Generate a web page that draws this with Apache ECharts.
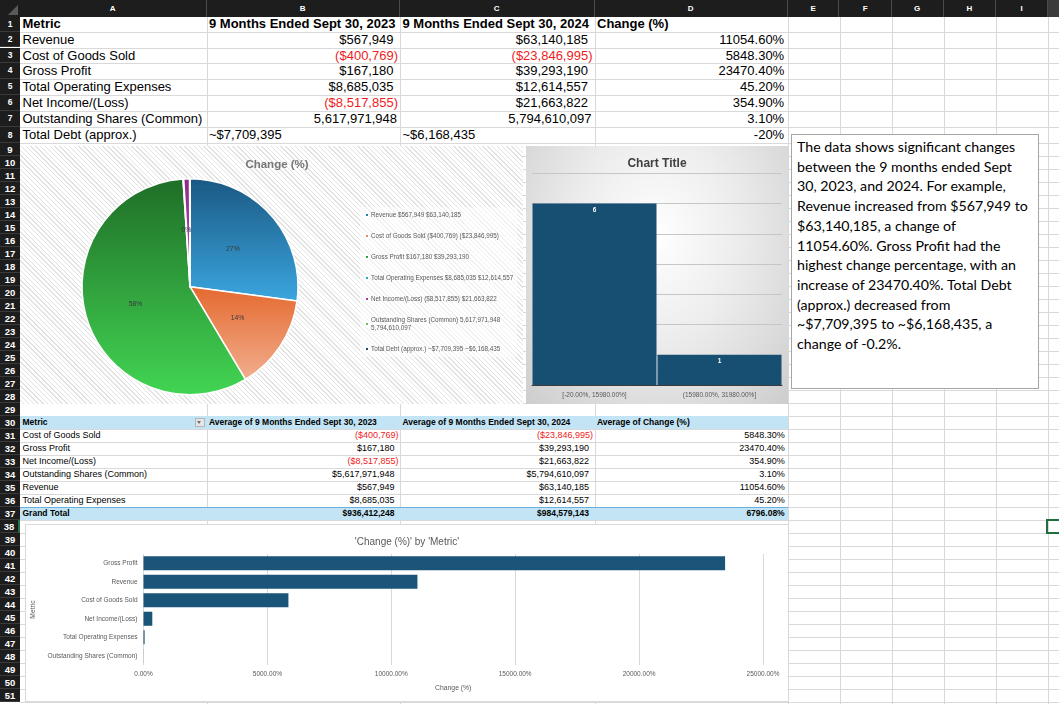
<!DOCTYPE html>
<html>
<head>
<meta charset="utf-8">
<script src="https://cdn.jsdelivr.net/npm/echarts@6/dist/echarts.min.js"></script>
<style>
html, body { margin: 0; padding: 0; width: 1059px; height: 704px; overflow: hidden; background: #fff; }
body { font-family: 'Liberation Sans', Arial, sans-serif; }
#sheet { position: absolute; left: 0; top: 0; width: 1059px; height: 704px; overflow: hidden; }
.hl { position: absolute; height: 1px; background: #d9d9d9; }
.vl { position: absolute; width: 1px; background: #d9d9d9; }
.cell { position: absolute; white-space: nowrap; box-sizing: border-box; color: #000; }
.hdr { position: absolute; background: #1d1d1d; color: #fff; font-weight: bold; text-align: center; box-sizing: border-box; }
#pie { position: absolute; left: 20px; top: 146px; width: 503px; height: 258px;
  background: repeating-linear-gradient(45deg, #ffffff 0px, #ffffff 2.4px, #e2e2e2 2.4px, #e2e2e2 3.4px); }
#hist { position: absolute; left: 526px; top: 146px; width: 262px; height: 258px;
  background: radial-gradient(ellipse at 50% 35%, #ffffff 0%, #ececec 45%, #cdcdcd 100%); }
#bar { position: absolute; left: 25px; top: 524px; width: 762px; height: 176px; background: #fff; border: 1px solid #d9d9d9; }
#note { position: absolute; left: 791px; top: 134px; width: 248px; height: 255px; box-sizing: border-box;
  background: #fff; border: 1px solid #a6a6a6; padding: 2px 0 0 5px;
  font-family: 'Lato', 'Open Sans', sans-serif; font-size: 14.2px; line-height: 19.7px; color: #000; white-space: pre; }
</style>
</head>
<body>
<div id="sheet"></div>
<div id="pie"></div>
<div id="hist"></div>
<div id="bar"></div>
<div id="note"></div>
<script>
// source table (rows 1-8)
const metrics = ['Revenue', 'Cost of Goods Sold', 'Gross Profit', 'Total Operating Expenses',
  'Net Income/(Loss)', 'Outstanding Shares (Common)', 'Total Debt (approx.)'];
const y2023 = [567949, -400769, 167180, 8685035, -8517855, 5617971948, 7709395];
const y2024 = [63140185, -23846995, 39293190, 12614557, 21663822, 5794610097, 6168435];
const changePct = [11054.6, 5848.3, 23470.4, 45.2, 354.9, 3.1, -20];

// histogram bins
const histBins = ['[-20.00%, 15980.00%]', '(15980.00%, 31980.00%]'];
const histCounts = [6, 1];

const colLetters = ['A', 'B', 'C', 'D', 'E', 'F', 'G', 'H', 'I', ''];
const colEdges = [20, 206.5, 400, 594.5, 787.7, 839.5, 891.7, 943.8, 996, 1048, 1100];
const topRows = [17.3, 31.6, 47.5, 63.4, 79.3, 95.2, 111.1, 127, 143.1];

const noteText = 'The data shows significant changes\nbetween the 9 months ended Sept\n30, 2023, and 2024. For example,\nRevenue increased from $567,949 to\n$63,140,185, a change of\n11054.60%. Gross Profit had the\nhighest change percentage, with an\nincrease of 23470.40%. Total Debt\n(approx.) decreased from\n~$7,709,395 to ~$6,168,435, a\nchange of -0.2%.';

const narrow = "'Liberation Sans Narrow', 'Liberation Sans', Arial, sans-serif";

function rowTop(r) {
  return r <= 9 ? topRows[r - 1] : 143.1 + (r - 9) * 13;
}
function money(v) {
  const s = '$' + Math.abs(Math.round(v)).toLocaleString('en-US');
  return v < 0 ? '(' + s + ')' : s;
}
function plain(v) { return Math.round(v).toLocaleString('en-US'); }
function pct(v) { return Number.isInteger(v) ? v + '%' : v.toFixed(2) + '%'; }
function fmtTop(i, v) {
  if (i === 5) return plain(v);
  if (i === 6) return '~' + money(v);
  return money(v);
}

const sheet = document.getElementById('sheet');
function add(cls, css, text) {
  const d = document.createElement('div');
  d.className = cls;
  Object.assign(d.style, css);
  if (text !== undefined) d.textContent = text;
  sheet.appendChild(d);
  return d;
}

// grid lines
for (let r = 2; r <= 52; r++) {
  add('hl', { left: '20px', top: rowTop(r) + 'px', width: '1040px' });
}
for (let c = 1; c < colEdges.length - 1; c++) {
  add('vl', { left: colEdges[c] + 'px', top: '17px', height: '690px' });
}

// pivot fills (under text)
add('cell', { left: '20px', top: rowTop(30) + 'px', width: (colEdges[4] - 20) + 'px', height: '13px', background: '#c2e4f5' });
add('cell', { left: '20px', top: rowTop(37) + 'px', width: (colEdges[4] - 20) + 'px', height: '13px', background: '#c2e4f5', borderTop: '1px solid #69b0dc' });

function cell(r, c, text, o) {
  o = o || {};
  const x0 = colEdges[c], x1 = colEdges[c + 1];
  const h = rowTop(r + 1) - rowTop(r);
  const css = {
    top: rowTop(r) + 'px', height: h + 'px', lineHeight: h + 'px',
    fontSize: (o.size || 13) + 'px', fontWeight: o.bold ? 'bold' : 'normal',
    color: o.color || '#000', fontFamily: o.family || "'Liberation Sans', Arial, sans-serif"
  };
  if (o.right) {
    css.left = x0 + 'px'; css.width = (x1 - x0 - (o.pad || 2)) + 'px'; css.textAlign = 'right';
  } else {
    css.left = (x0 + 2.5) + 'px';
  }
  add('cell', css, text);
}

// top table
['Metric', '9 Months Ended Sept 30, 2023', '9 Months Ended Sept 30, 2024', 'Change (%)']
  .forEach((t, c) => cell(1, c, t, { bold: true }));
metrics.forEach((m, i) => {
  const r = i + 2;
  cell(r, 0, m);
  if (i === 6) {
    cell(r, 1, fmtTop(i, y2023[i]));
    cell(r, 2, fmtTop(i, y2024[i]));
  } else {
    const pad = v => (i === 5 ? 3 : (v < 0 ? 2 : 6.5));
    cell(r, 1, fmtTop(i, y2023[i]), { right: true, pad: pad(y2023[i]), color: y2023[i] < 0 ? '#ee1c1c' : '#000' });
    cell(r, 2, fmtTop(i, y2024[i]), { right: true, pad: pad(y2024[i]), color: y2024[i] < 0 ? '#ee1c1c' : '#000' });
  }
  cell(r, 3, pct(changePct[i]), { right: true, pad: 3.5 });
});

// pivot table (rows 30-37)
const pivotIdx = metrics.map((m, i) => i).filter(i => i !== 6)
  .sort((a, b) => metrics[a].localeCompare(metrics[b]));
const pv = { size: 9, family: narrow };
const pvb = { size: 8.5, family: narrow, bold: true };
cell(30, 0, 'Metric', pvb);
cell(30, 1, 'Average of 9 Months Ended Sept 30, 2023', pvb);
cell(30, 2, 'Average of 9 Months Ended Sept 30, 2024', pvb);
cell(30, 3, 'Average of Change (%)', pvb);
pivotIdx.forEach((i, k) => {
  const r = 31 + k;
  cell(r, 0, metrics[i], pv);
  [y2023, y2024].forEach((arr, j) => {
    const v = arr[i];
    cell(r, 1 + j, money(v), Object.assign({ right: true, pad: v < 0 ? 1.5 : 5.5, color: v < 0 ? '#ee1c1c' : '#000' }, pv));
  });
  cell(r, 3, pct(changePct[i]), Object.assign({ right: true, pad: 3 }, pv));
});
const avg = arr => pivotIdx.reduce((s, i) => s + arr[i], 0) / pivotIdx.length;
cell(37, 0, 'Grand Total', pvb);
cell(37, 1, money(avg(y2023)), Object.assign({ right: true, pad: 5.5 }, pvb));
cell(37, 2, money(avg(y2024)), Object.assign({ right: true, pad: 5.5 }, pvb));
cell(37, 3, avg(changePct).toFixed(2) + '%', Object.assign({ right: true, pad: 3 }, pvb));
// filter button
add('cell', { left: '194.5px', top: (rowTop(30) + 2) + 'px', width: '10px', height: '9px', background: '#e6e6e6', border: '1px solid #b5b5b5' });
add('cell', { left: '197px', top: (rowTop(30) + 5) + 'px', width: 0, height: 0,
  borderLeft: '2.5px solid transparent', borderRight: '2.5px solid transparent', borderTop: '3px solid #707070' });

// column header
add('hdr', { left: '0px', top: '0px', width: '1059px', height: '17.3px' });
add('cell', { left: '8px', top: '5px', width: 0, height: 0, borderLeft: '10px solid transparent', borderBottom: '10px solid #5a5a5a' });
add('hdr', { left: colEdges[9] + 'px', top: '0px', width: '20px', height: '17.3px', background: '#3b3b3b' });
for (let c = 0; c < 9; c++) {
  add('hdr', { left: colEdges[c] + 'px', top: '0px', width: (colEdges[c + 1] - colEdges[c]) + 'px', height: '17.3px',
    lineHeight: '17.3px', fontSize: '8px', borderRight: '1px solid #4a4a4a', background: 'transparent' }, colLetters[c]);
}
// row header
for (let r = 1; r <= 51; r++) {
  const h = rowTop(r + 1) - rowTop(r);
  add('hdr', { left: '0px', top: rowTop(r) + 'px', width: '20px', height: h + 'px', lineHeight: h + 'px',
    fontSize: r <= 8 ? '8.5px' : '9.5px', borderBottom: '1px solid #3a3a3a',
    borderRight: r === 38 ? '2px solid #217346' : 'none' }, String(r));
}
// selected cell J38
add('cell', { left: '1046px', top: (rowTop(38) - 1.5) + 'px', width: '20px', height: '15px', border: '2px solid #1f6e3e' });

document.getElementById('note').textContent = noteText;

// ---- pie: Change (%) ----
const pieColors = [
  ['#1a5883', '#3ba6df'], ['#e4692f', '#f2ae8e'], ['#1f6d27', '#42d553'], ['#1a808f', '#46c6d2'],
  ['#8c2a8c', '#c04fc0'], ['#5d9a3a', '#a0d97b'], ['#16304b', '#2b5a86']
];
const legendName = i => metrics[i] + ' ' + fmtTop(i, y2023[i]) + ' ' + fmtTop(i, y2024[i]);
const pieChart = echarts.init(document.getElementById('pie'));
pieChart.setOption({
  animation: false,
  title: {
    text: 'Change (%)', left: 252, top: 8, textAlign: 'center',
    textStyle: { fontSize: 11.5, fontWeight: 'bold', color: '#767676', fontFamily: narrow }
  },
  legend: {
    orient: 'vertical', left: 340, top: 61, icon: 'rect', itemWidth: 4, itemHeight: 4, itemGap: 13,
    padding: 4, backgroundColor: 'rgba(255,255,255,0.5)',
    textStyle: { fontSize: 6.3, lineHeight: 8, color: '#595959', fontFamily: narrow, padding: [0, 0, 0, -3] },
    formatter: name => {
      if (name.length <= 50) return name;
      const k = name.lastIndexOf(' ');
      return name.slice(0, k) + '\n' + name.slice(k + 1);
    }
  },
  series: [{
    type: 'pie', center: [170, 140.7], radius: 108, startAngle: 90, clockwise: true,
    emphasis: { disabled: true },
    itemStyle: { borderColor: '#ffffff', borderWidth: 1.5 },
    label: {
      position: 'inside', formatter: p => Math.round(p.percent) + '%',
      fontSize: 6.8, color: '#3a3a3a', fontFamily: narrow
    },
    labelLine: { show: false },
    data: metrics.map((m, i) => ({
      name: legendName(i),
      value: Math.abs(changePct[i]),
      itemStyle: { color: { type: 'linear', x: 0, y: 0, x2: 0, y2: 1,
        colorStops: [{ offset: 0, color: pieColors[i][0] }, { offset: 1, color: pieColors[i][1] }] } }
    }))
  }]
});

// ---- histogram ----
const histChart = echarts.init(document.getElementById('hist'));
histChart.setOption({
  animation: false,
  title: {
    text: 'Chart Title', left: 'center', top: 7,
    textStyle: { fontSize: 12, fontWeight: 'bold', color: '#404040', fontFamily: narrow }
  },
  grid: { left: 6, right: 6, top: 27.3, bottom: 19, outerBoundsMode: 'none' },
  xAxis: {
    type: 'category', data: histBins,
    axisTick: { show: false },
    axisLine: { lineStyle: { color: '#3c3c3c', width: 1 } },
    axisLabel: { fontSize: 6.5, color: '#595959', margin: 7, fontFamily: narrow }
  },
  yAxis: {
    type: 'value', min: 0, max: 7, interval: 1,
    axisLabel: { show: false },
    splitLine: { lineStyle: { color: '#c6c6c6' } }
  },
  series: [{
    type: 'bar', data: histCounts, barCategoryGap: '0.8%',
    itemStyle: { color: '#164f72' },
    label: { show: true, position: 'insideTop', distance: 3, color: '#ffffff', fontSize: 6.5, fontWeight: 'bold', fontFamily: narrow }
  }]
});

// ---- bar: Change (%) by Metric ----
const barIdx = pivotIdx.slice().sort((a, b) => changePct[b] - changePct[a]);
const barChart = echarts.init(document.getElementById('bar'));
barChart.setOption({
  animation: false,
  title: {
    text: "'Change (%)' by 'Metric'", left: 'center', top: 7,
    textStyle: { fontSize: 10, fontWeight: 'normal', color: '#595959', fontFamily: narrow }
  },
  grid: { left: 117.5, right: 25, top: 29, bottom: 36, outerBoundsMode: 'none' },
  xAxis: {
    type: 'value', min: 0, max: 25000, interval: 5000,
    axisLine: { show: false }, axisTick: { show: false },
    axisLabel: { formatter: v => v.toFixed(2) + '%', fontSize: 6.5, color: '#595959', margin: 6, fontFamily: narrow },
    splitLine: { lineStyle: { color: '#d9d9d9' } },
    name: 'Change (%)', nameLocation: 'middle', nameGap: 20,
    nameTextStyle: { fontSize: 6.8, color: '#595959', fontFamily: narrow }
  },
  yAxis: {
    type: 'category', inverse: true, data: barIdx.map(i => metrics[i]),
    axisLine: { show: false }, axisTick: { show: false },
    axisLabel: { fontSize: 6.5, color: '#595959', margin: 6, fontFamily: narrow },
    name: 'Metric', nameLocation: 'middle', nameRotate: 90, nameGap: 102,
    nameTextStyle: { fontSize: 6.8, color: '#595959', fontFamily: narrow }
  },
  series: [{
    type: 'bar', data: barIdx.map(i => changePct[i]), barCategoryGap: '24%',
    itemStyle: { color: '#1a5479' }
  }]
});
</script>
</body>
</html>
